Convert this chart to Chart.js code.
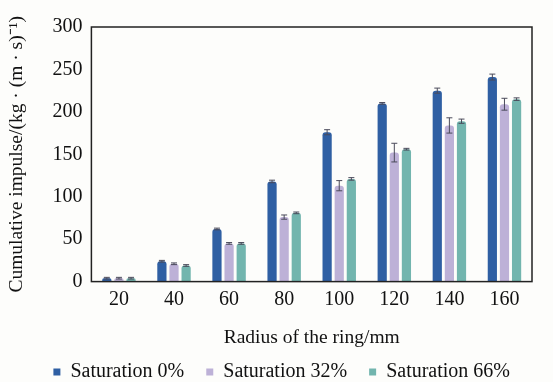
<!DOCTYPE html>
<html>
<head>
<meta charset="utf-8">
<script src="https://cdn.jsdelivr.net/npm/chart.js@4/dist/chart.umd.min.js"></script>
<style>
  html, body { margin: 0; padding: 0; background: #fdfdfb; }
  #wrap { width: 553px; height: 382px; }
</style>
</head>
<body>
<div id="wrap"><canvas id="grafico"></canvas></div>
<script>
// dados
const raios = ['20', '40', '60', '80', '100', '120', '140', '160'];
const sat0 = [4, 24, 62, 118, 176, 210, 225, 241];
const sat32 = [4, 21, 45, 76, 113, 152, 184, 209];
const sat66 = [4, 19, 45, 81, 121, 156, 189, 215];
const erro0 = [1, 1, 1, 1.5, 3, 1, 3, 3.5];
const erro32 = [1, 1, 1, 2.5, 6, 11, 9, 7];
const erro66 = [1, 1, 1, 1, 1.5, 1, 2.5, 1.5];

const erros = [erro0, erro32, erro66];

// barras de erro desenhadas com as escalas do gráfico
const barrasErro = {
  id: 'barrasErro',
  afterDatasetsDraw(chart) {
    const ctx = chart.ctx;
    const y = chart.scales.y;
    ctx.save();
    ctx.strokeStyle = '#4a4a5a';
    ctx.lineWidth = 1;
    chart.data.datasets.forEach((ds, i) => {
      const meta = chart.getDatasetMeta(i);
      meta.data.forEach((bar, j) => {
        const v = ds.data[j];
        const e = erros[i][j];
        const top = y.getPixelForValue(v + e);
        const bot = y.getPixelForValue(v - e);
        ctx.beginPath();
        ctx.moveTo(bar.x, top);
        ctx.lineTo(bar.x, bot);
        ctx.moveTo(bar.x - 3, top);
        ctx.lineTo(bar.x + 3, top);
        ctx.moveTo(bar.x - 3, bot);
        ctx.lineTo(bar.x + 3, bot);
        ctx.stroke();
      });
    });
    ctx.restore();
  }
};

// moldura do gráfico
const moldura = {
  id: 'moldura',
  afterDraw(chart) {
    const a = chart.chartArea;
    const ctx = chart.ctx;
    ctx.save();
    ctx.strokeStyle = '#222';
    ctx.lineWidth = 1.5;
    ctx.strokeRect(a.left, a.top, a.right - a.left, a.bottom - a.top);
    ctx.restore();
  }
};

const fonte = 'Liberation Serif';

new Chart(document.getElementById('grafico'), {
  type: 'bar',
  data: {
    labels: raios,
    datasets: [
      { label: 'Saturation 0%', data: sat0, backgroundColor: '#2f5fa3' },
      { label: 'Saturation 32%', data: sat32, backgroundColor: '#bdb1d7' },
      { label: 'Saturation 66%', data: sat66, backgroundColor: '#72b5ae' }
    ]
  },
  options: {
    responsive: true,
    maintainAspectRatio: false,
    animation: false,
    layout: { padding: { top: 27, right: 21, left: 5, bottom: -10 } },
    datasets: {
      bar: {
        categoryPercentage: 0.66,
        barPercentage: 0.76,
        borderRadius: { topLeft: 3, topRight: 3 },
        borderSkipped: false
      }
    },
    plugins: {
      legend: {
        position: 'bottom',
        align: 'end',
        labels: {
          color: '#111',
          font: { family: fonte, size: 20 },
          boxWidth: 7,
          boxHeight: 7,
          padding: 22
        }
      },
      tooltip: { enabled: false }
    },
    scales: {
      x: {
        grid: { display: false, drawTicks: false },
        border: { display: false },
        ticks: { color: '#111', font: { family: fonte, size: 20 }, padding: 6 },
        title: {
          display: true,
          text: 'Radius of the ring/mm',
          color: '#111',
          font: { family: fonte, size: 19.5 },
          padding: { top: 9, bottom: -10 }
        }
      },
      y: {
        min: 0,
        max: 300,
        ticks: { stepSize: 50, color: '#111', font: { family: fonte, size: 20 }, padding: 3 },
        grid: { display: false, drawOnChartArea: false, drawTicks: true, tickLength: 6, color: '#222' },
        border: { display: false },
        title: {
          display: true,
          text: 'Cumulative impulse/(kg · (m · s)⁻¹)',
          color: '#111',
          font: { family: fonte, size: 19.5 },
          padding: { top: 0, bottom: 21 }
        }
      }
    }
  },
  plugins: [barrasErro, moldura]
});
</script>
</body>
</html>
